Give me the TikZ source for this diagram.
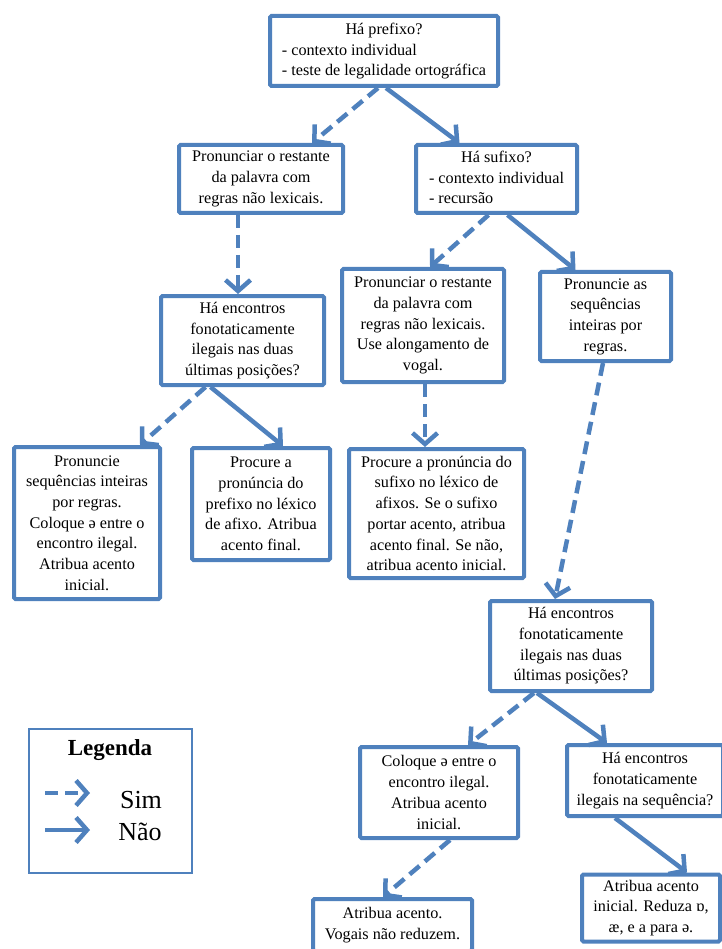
\documentclass[tikz,border=0pt]{standalone}
\usepackage{fontspec}
\setmainfont{Liberation Serif}
\usetikzlibrary{arrows.meta}
\definecolor{azul}{RGB}{79,129,189}
\tikzset{
  caixa/.style={draw=azul, line width=4pt, rounded corners=1.5pt, fill=white,
    align=center, inner sep=0pt, font=\fontsize{16.2}{20.7}\selectfont},
  nao/.style={draw=azul, line width=4.5pt, -{Straight Barb[length=11pt,width=25pt]}},
  sim/.style={nao, dash pattern=on 13pt off 7pt},
}
\begin{document}
\begin{tikzpicture}[x=1pt,y=-1pt]
  \useasboundingbox (0,0) rectangle (721,949);

  % caixas
  \node[caixa, minimum width=228pt, minimum height=70pt] (prefixo) at (384,51)
    {\begin{tabular}{@{}l@{}}\multicolumn{1}{@{}c@{}}{Há prefixo?}\\- contexto individual\\- teste de legalidade ortográfica\end{tabular}};
  \node[caixa, minimum width=164pt, minimum height=68pt] (restante) at (261,179)
    {Pronunciar o restante\\da palavra com\\regras não lexicais.};
  \node[caixa, minimum width=161pt, minimum height=68pt] (sufixo) at (496.5,179)
    {\begin{tabular}{@{}l@{}}\multicolumn{1}{@{}c@{}}{Há sufixo?}\\- contexto individual\\- recursão\end{tabular}};
  \node[caixa, minimum width=163pt, minimum height=89pt] (encontrosA) at (242.5,340.5)
    {Há encontros\\fonotaticamente\\ilegais nas duas\\últimas posições?};
  \node[caixa, minimum width=162pt, minimum height=113pt] (alongamento) at (423,325.5)
    {Pronunciar o restante\\da palavra com\\regras não lexicais.\\Use alongamento de\\vogal.};
  \node[caixa, minimum width=131pt, minimum height=89pt] (inteiras) at (605.5,316.5)
    {Pronuncie as\\sequências\\inteiras por\\regras.};
  \node[caixa, minimum width=146pt, minimum height=152pt] (sequencias) at (87,523)
    {Pronuncie\\sequências inteiras\\por regras.\\Coloque ə entre o\\encontro ilegal.\\Atribua acento\\inicial.};
  \node[caixa, minimum width=138pt, minimum height=112pt] (lexprefixo) at (261,504)
    {Procure a\\pronúncia do\\prefixo no léxico\\de afixo. Atribua\\acento final.};
  \node[caixa, minimum width=175pt, minimum height=129pt] (lexsufixo) at (436.5,513.5)
    {Procure a pronúncia do\\sufixo no léxico de\\afixos. Se o sufixo\\portar acento, atribua\\acento final. Se não,\\atribua acento inicial.};
  \node[caixa, minimum width=162pt, minimum height=90pt] (encontrosB) at (571,646)
    {Há encontros\\fonotaticamente\\ilegais nas duas\\últimas posições?};
  \node[caixa, minimum width=158pt, minimum height=91pt] (schwa) at (439,792.5)
    {Coloque ə entre o\\encontro ilegal.\\Atribua acento\\inicial.};
  \node[caixa, minimum width=156pt, minimum height=71pt] (sequencia) at (645,780.5)
    {Há encontros\\fonotaticamente\\ilegais na sequência?};
  \node[caixa, minimum width=159pt, minimum height=52pt] (naoreduz) at (392.5,925)
    {Atribua acento.\\Vogais não reduzem.};
  \node[caixa, minimum width=138pt, minimum height=67pt] (reduza) at (651,908)
    {Atribua acento\\inicial. Reduza ɒ,\\æ, e a para ə.};

  % setas
  \draw[sim] ([xshift=-6pt]prefixo.south) -- ([xshift=51pt]restante.north);
  \draw[nao] ([xshift=2pt]prefixo.south) -- ([xshift=-37pt]sufixo.north);
  \draw[sim] ([xshift=-23pt]restante.south) -- ([xshift=-4.5pt]encontrosA.north);
  \draw[sim] ([xshift=-8pt]sufixo.south) -- ([xshift=7pt]alongamento.north);
  \draw[nao] ([xshift=11pt]sufixo.south) -- ([xshift=-30pt]inteiras.north);
  \draw[sim] ([xshift=-37pt]encontrosA.south) -- ([xshift=53pt]sequencias.north);
  \draw[nao] ([xshift=-32pt]encontrosA.south) -- ([xshift=22pt]lexprefixo.north);
  \draw[sim] ([xshift=2pt]alongamento.south) -- ([xshift=-11.5pt]lexsufixo.north);
  \draw[sim] ([xshift=-2.5pt]inteiras.south) -- ([xshift=-16pt]encontrosB.north);
  \draw[sim] ([xshift=-37pt]encontrosB.south) -- ([xshift=29pt]schwa.north);
  \draw[nao] ([xshift=-34pt]encontrosB.south) -- ([xshift=-38pt]sequencia.north);
  \draw[sim] ([xshift=11pt]schwa.south) -- ([xshift=-9.5pt]naoreduz.north);
  \draw[nao] ([xshift=-30pt]sequencia.south) -- ([xshift=36pt]reduza.north);

  % legenda
  \node[draw=azul, line width=2.5pt, minimum width=163pt, minimum height=144pt] (legenda) at (110.5,801) {};
  \node[font=\bfseries\fontsize{23}{28}\selectfont] (titulo) at (110,750) {Legenda};
  \node[font=\fontsize{26}{30}\selectfont] (simtxt) at (141,800) {Sim};
  \node[font=\fontsize{26}{30}\selectfont] (naotxt) at (140,832) {Não};
  \coordinate (sim0) at (45,793);
  \coordinate (sim1) at (90,793);
  \coordinate (nao0) at (45,830);
  \coordinate (nao1) at (90,830);
  \draw[sim] (sim0) -- (sim1);
  \draw[nao] (nao0) -- (nao1);
\end{tikzpicture}
\end{document}
